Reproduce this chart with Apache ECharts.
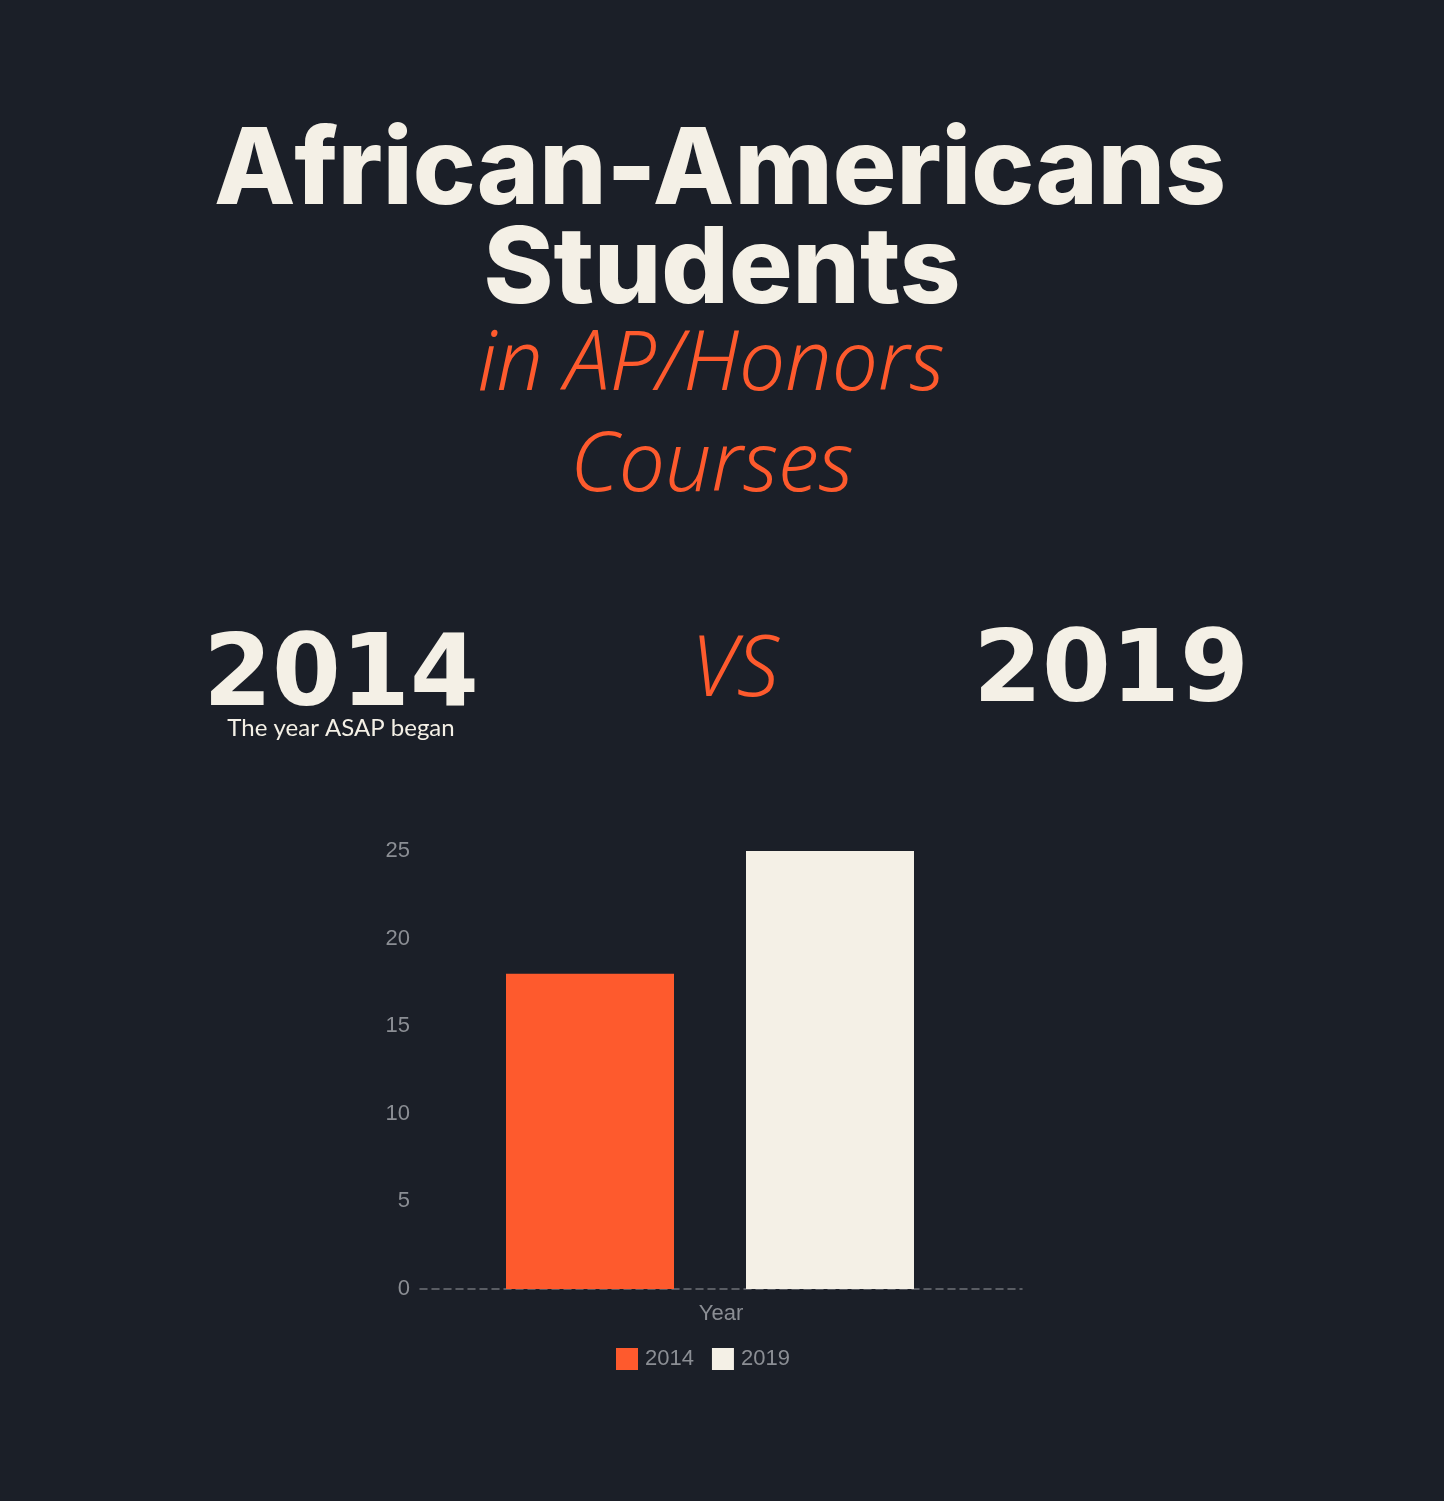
<!DOCTYPE html>
<html>
<head>
<meta charset="utf-8">
<style>
html,body{margin:0;padding:0;background:#1b1f28;}
#chart{width:1444px;height:1501px;}
</style>
<script src="https://cdn.jsdelivr.net/npm/echarts@6/dist/echarts.min.js"></script>
</head>
<body>
<div id="chart"></div>
<script>
const categories = ['Year'];
const seriesNames = ['2014', '2019'];
const values2014 = [18];
const values2019 = [25];
const yMin = 0, yMax = 25, yInterval = 5;

const titleLine1 = 'African-Americans';
const titleLine2 = 'Students';
const subLine1 = 'in AP/Honors';
const subLine2 = 'Courses';
const leftYear = '2014';
const vsText = 'VS';
const rightYear = '2019';
const leftNote = 'The year ASAP began';

const cream = '#f4f0e6';
const orange = '#fe5a2d';
const gray = '#8b8e94';

const chart = echarts.init(document.getElementById('chart'), null, {renderer: 'canvas'});

function txt(text, x, y, font, fill) {
  return {type: 'text', style: {text: text, x: x, y: y, font: font, fill: fill, textAlign: 'center', textVerticalAlign: 'middle'}};
}

chart.setOption({
  backgroundColor: '#1b1f28',
  animation: false,
  graphic: [
    txt(titleLine1, 720, 172, '800 106px Inter', cream),
    txt(titleLine2, 722, 271, '800 106px Inter', cream),
    txt(subLine1, 711, 367, 'italic 300 82px "Noto Sans"', orange),
    txt(subLine2, 712, 468, 'italic 300 82px "Noto Sans"', orange),
    txt(leftYear, 341, 679, 'bold 99px "DejaVu Sans"', cream),
    txt(vsText, 735, 672, 'italic 300 84px "Noto Sans"', orange),
    txt(rightYear, 1111, 675, 'bold 99px "DejaVu Sans"', cream),
    txt(leftNote, 341, 728, '24px Lato', cream)
  ],
  legend: {
    data: seriesNames,
    left: 611,
    top: 1343,
    itemWidth: 22,
    itemHeight: 22,
    itemGap: 18,
    icon: 'rect',
    textStyle: {color: gray, fontSize: 22, fontFamily: 'Liberation Sans', padding: [0, 0, 0, 2]}
  },
  grid: [
    {left: 420, right: 422, top: 851, bottom: 212},
    {left: 420, width: 580, top: 851, bottom: 212}
  ],
  xAxis: [
    {
      gridIndex: 0, type: 'category', data: categories,
      axisLine: {show: true, lineStyle: {color: '#6f7277', type: [7, 5], width: 1.5}},
      axisTick: {show: false},
      axisLabel: {color: gray, fontSize: 22, fontFamily: 'Liberation Sans', margin: 14}
    },
    {
      gridIndex: 1, type: 'category', data: categories,
      axisLine: {show: false}, axisTick: {show: false}, axisLabel: {show: false}
    }
  ],
  yAxis: [
    {gridIndex: 0, type: 'value', min: yMin, max: yMax, interval: yInterval, show: false, splitLine: {show: false}},
    {
      gridIndex: 1, type: 'value', min: yMin, max: yMax, interval: yInterval,
      axisLine: {show: false}, axisTick: {show: false}, splitLine: {show: false},
      axisLabel: {color: gray, fontSize: 22, fontFamily: 'Liberation Sans', margin: 10, padding: [3, 0, 0, 0]}
    }
  ],
  series: [
    {name: seriesNames[0], type: 'bar', xAxisIndex: 1, yAxisIndex: 1, data: values2014, barWidth: 168, barGap: '42.857%', itemStyle: {color: orange}},
    {name: seriesNames[1], type: 'bar', xAxisIndex: 1, yAxisIndex: 1, data: values2019, barWidth: 168, barGap: '42.857%', itemStyle: {color: cream}}
  ]
});
</script>
</body>
</html>
